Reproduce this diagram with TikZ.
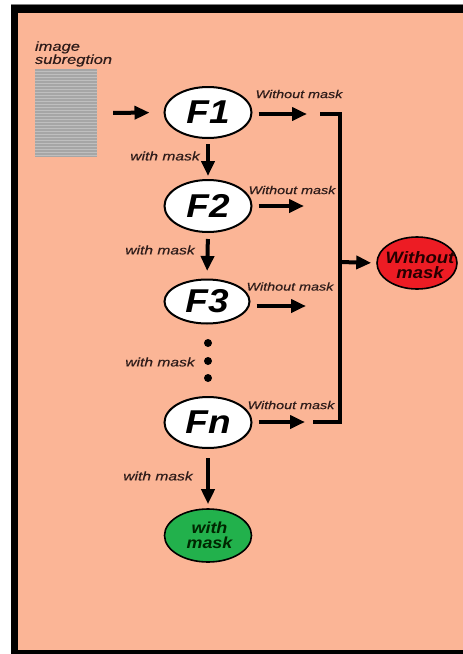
\documentclass[tikz,border=0pt]{standalone}
\usepackage{fontspec}
\setmainfont{Liberation Sans}
\newfontfamily\lblfont[FakeStretch=1.27,FakeBold=0.4]{Liberation Sans}
\newfontfamily\headfont[FakeStretch=1.12]{Liberation Sans}
\usetikzlibrary{shapes.geometric,arrows.meta,positioning,patterns}
\definecolor{peach}{HTML}{FBB596}
\definecolor{maskgreen}{HTML}{22B14C}
\definecolor{maskred}{HTML}{ED1C24}
\definecolor{inkbrown}{HTML}{2E1C1A}

\begin{document}
\begin{tikzpicture}[x=1pt,y=-1pt,
    stage/.style={ellipse, draw=black, line width=2pt, fill=white, inner sep=0pt,
      minimum width=87pt, minimum height=51pt,
      font=\headfont\bfseries\itshape\fontsize{33}{33}\selectfont},
    result/.style={ellipse, draw=black, line width=1.6pt, inner sep=0pt},
    restext/.style={align=center, inner sep=0pt,
      font=\headfont\bfseries\itshape\fontsize{16}{15}\selectfont},
    flow/.style={line width=4pt, -{Triangle[length=15pt,width=13pt]}},
    bus/.style={line width=3.3pt},
    outlbl/.style={font=\lblfont\itshape\fontsize{11.3}{11}\selectfont, text=inkbrown, inner sep=0pt},
    inlbl/.style={font=\lblfont\itshape\fontsize{12.3}{12}\selectfont, text=inkbrown, inner sep=0pt},
  ]
  \useasboundingbox (0,0) rectangle (463,654);
  % frame
  \fill[white] (0,0) rectangle (463,654);
  \fill[gray] (11,4) rectangle (470,660);
  \fill[black] (11,5) rectangle (470,660);
  \fill[peach] (18,13) rectangle (470,650);

  % input image
  \node[fill=gray!70, minimum width=62pt, minimum height=88pt, inner sep=0pt,
    postaction={pattern=horizontal lines, pattern color=gray!50}] (img) at (66,113) {};
  \node[inlbl, font=\lblfont\itshape\fontsize{13}{11.5}\selectfont, align=left,
    anchor=south west] (imglbl) at ([yshift=2pt]img.north west) {image\\subregtion};

  % stages
  \node[stage] (f1) at (208,112.5) {F1};
  \node[stage, minimum height=52pt] (f2) at (208,206) {F2};
  \node[stage, minimum width=85pt, minimum height=44pt] (f3) at (207,301.5) {F3};
  \node[stage] (fn) at (208,422.5) {Fn};
  \foreach \y/\n in {343/1, 361/2, 378/3}
    \node[circle, fill=black, inner sep=0pt, minimum size=8pt] (dot\n) at (208,\y) {};

  % results
  \node[result, fill=maskgreen, minimum width=87pt, minimum height=53pt] (wm) at (208,535.5) {};
  \node[restext, text=black!85!green] (wmtxt) at (209.5,535) {with\\mask};
  \node[result, fill=maskred, minimum width=80pt, minimum height=52pt] (wo) at (417,263) {};
  \node[restext, font=\headfont\bfseries\itshape\fontsize{16.5}{15}\selectfont,
    text=black!85!red] (wotxt) at (420,265) {Without\\mask};

  % arrow ends and bus
  \coordinate (o1) at (307,114);
  \coordinate (o2) at (304,206);
  \coordinate (o3) at (306,306);
  \coordinate (on) at (305,422);
  \coordinate (j1) at (320,114);
  \coordinate (jn) at (313,422);
  \coordinate (bustop) at (340,114);
  \coordinate (busbot) at (340,422);
  \coordinate (busmid) at (340,262);

  % connectors
  \draw[flow, shorten <=16pt, shorten >=14pt] (img.east) -- (f1.west);
  \draw[flow, shorten <=6pt] (f1.east |- o1) -- (o1);
  \draw[flow, shorten <=6pt] (f2.east) -- (o2);
  \draw[flow, shorten <=6pt] (f3.east |- o3) -- (o3);
  \draw[flow, shorten <=6pt] (fn.east |- on) -- (on);
  \draw[bus] (j1) -- (bustop) -- (busbot) -- (jn);
  \draw[flow, shorten <=1pt, shorten >=5pt] (busmid) -- (wo.west);
  \draw[flow, shorten <=5pt, shorten >=3pt] (f1.south) -- (f2.north);
  \draw[flow, shorten <=6pt, shorten >=7.5pt] (f2.south) -- (f3.north);
  \draw[flow, shorten <=9pt, shorten >=4pt] (fn.south) -- (wm.north);

  % labels
  \node[outlbl] (w1) at (299,94) {Without mask};
  \node[outlbl] (w2) at (292,190) {Without mask};
  \node[outlbl] (w3) at (290,286.5) {Without mask};
  \node[outlbl] (wn) at (291,405) {Without mask};
  \node[inlbl] (m1) at (165,156) {with mask};
  \node[inlbl] (m2) at (160,250) {with mask};
  \node[inlbl] (m3) at (160,362) {with mask};
  \node[inlbl] (mn) at (158,476) {with mask};
\end{tikzpicture}
\end{document}
